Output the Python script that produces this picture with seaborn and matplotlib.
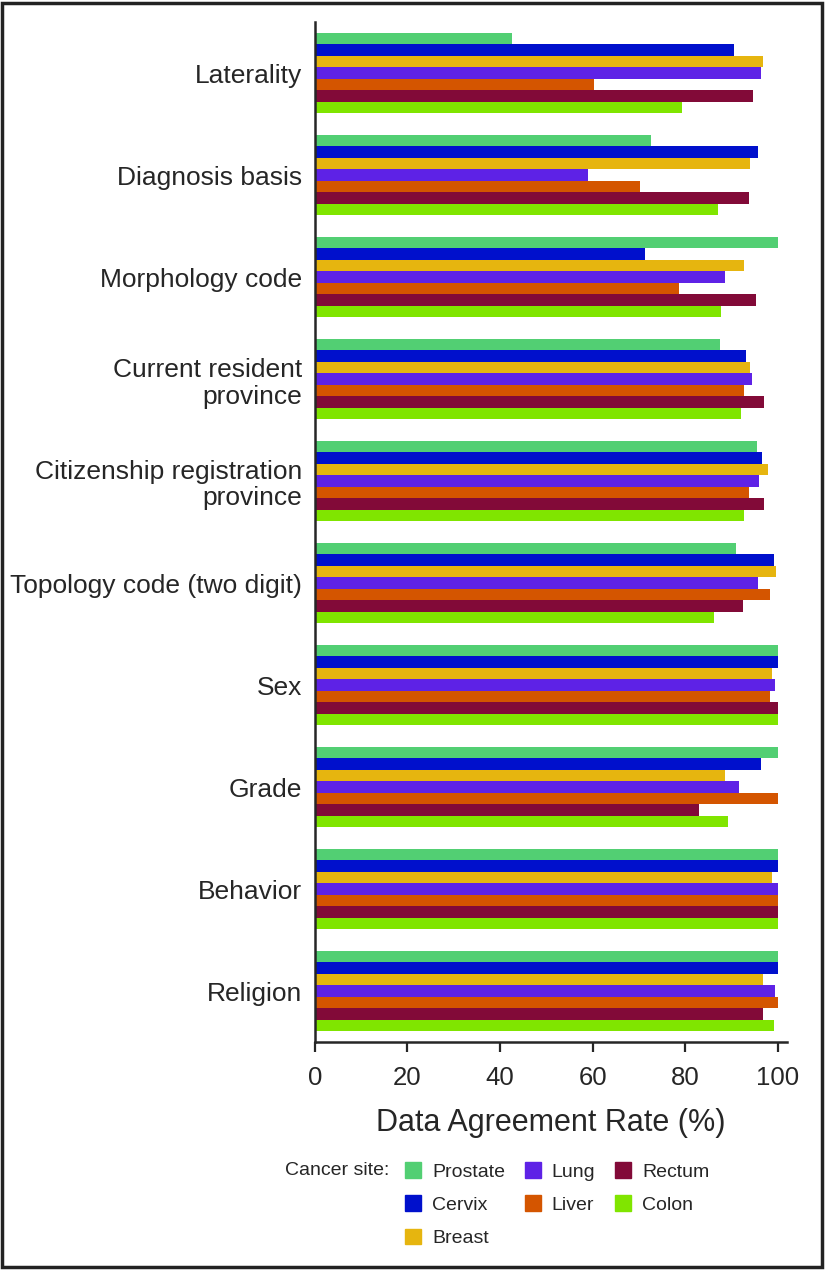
import pandas as pd
import matplotlib.pyplot as plt
import seaborn as sns
from matplotlib.patches import Rectangle

# Data
variables = ["Laterality", "Diagnosis basis", "Morphology code",
             "Current resident\nprovince", "Citizenship registration\nprovince",
             "Topology code (two digit)", "Sex", "Grade", "Behavior", "Religion"]
sites = ["Prostate", "Cervix", "Breast", "Lung", "Liver", "Rectum", "Colon"]

prostate = [42.7, 72.6, 100.0, 87.5, 95.5, 90.9, 100.0, 100.0, 100.0, 100.0]
cervix = [90.5, 95.7, 71.4, 93.2, 96.5, 99.1, 100.0, 96.3, 100.0, 100.0]
breast = [96.7, 93.9, 92.7, 93.9, 97.9, 99.5, 98.7, 88.5, 98.8, 96.7]
lung = [96.3, 59.1, 88.5, 94.5, 95.9, 95.7, 99.3, 91.7, 100.0, 99.3]
liver = [60.2, 70.2, 78.7, 92.7, 93.8, 98.3, 98.3, 100.0, 100.0, 100.0]
rectum = [94.7, 93.8, 95.2, 96.9, 96.9, 92.4, 100.0, 82.9, 100.0, 96.7]
colon = [79.3, 87.1, 87.8, 92.1, 92.7, 86.2, 100.0, 89.3, 100.0, 99.1]

colors = ["#52CF73", "#0010CC", "#E6B50F", "#5E22E6", "#D45500", "#820A38", "#80E500"]

series = [prostate, cervix, breast, lung, liver, rectum, colon]
rows = []
for site, vals in zip(sites, series):
    for var, v in zip(variables, vals):
        rows.append({"variable": var, "site": site, "rate": v})
df = pd.DataFrame(rows)

sns.set_style("ticks")
plt.rcParams["font.family"] = ["Liberation Sans", "DejaVu Sans"]

fig = plt.figure(figsize=(8.26, 12.7), dpi=100)
ax = fig.add_axes([0.381, 0.1795, 0.572, 0.803])

sns.barplot(data=df, y="variable", x="rate", hue="site", order=variables,
            hue_order=sites, palette=colors, saturation=1, orient="h", width=0.79,
            linewidth=0, legend=False, ax=ax)

ax.set_xlim(0, 102)
ax.set_ylim(9.5, -0.5)
ax.set_xticks([0, 20, 40, 60, 80, 100])
ax.set_ylabel("")
ax.set_xlabel("Data Agreement Rate (%)", fontsize=22, labelpad=13)
ax.tick_params(axis="y", length=0, pad=9, labelsize=19)
ax.tick_params(axis="x", length=7, width=1.6, pad=10, labelsize=18.5)
for lab in ax.get_yticklabels():
    lab.set_horizontalalignment("right")
    lab.set_linespacing(1.15)
for s in ["top", "right"]:
    ax.spines[s].set_visible(False)
for s in ["left", "bottom"]:
    ax.spines[s].set_linewidth(1.8)

# Legend
handles = [Rectangle((0, 0), 1, 1, color=c) for c in colors]
fig.legend(handles, sites, loc="upper left", bbox_to_anchor=(0.469, 0.0985),
           ncol=3, frameon=False, handlelength=0.85, handleheight=0.85,
           handletextpad=0.55, columnspacing=1.0, labelspacing=0.75,
           prop={"size": 14})
fig.text(0.345, 0.0785, "Cancer site:", fontsize=14, va="center")

# outer frame
fig.patches.append(Rectangle((0.002, 0.002), 0.993, 0.996, transform=fig.transFigure,
                             fill=False, edgecolor="#222222", linewidth=2.5))

plt.savefig("out.png", dpi=100)
plt.close()
